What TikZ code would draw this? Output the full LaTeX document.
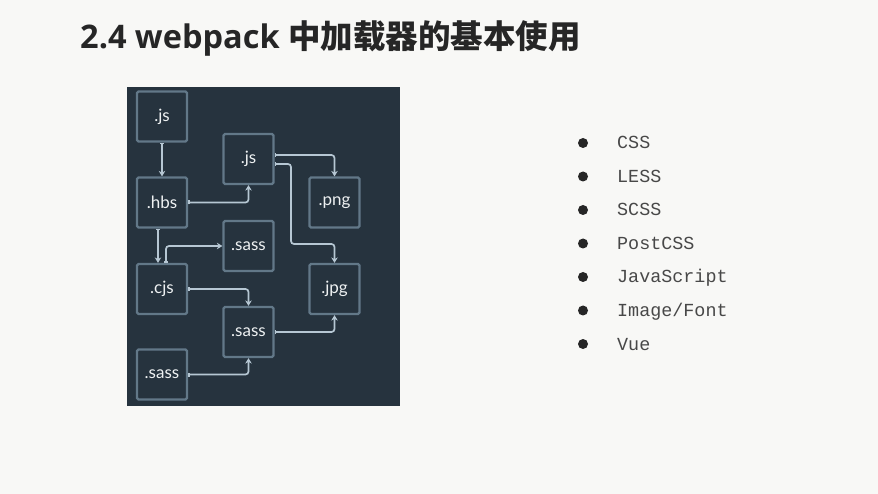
\documentclass[tikz,border=0pt]{standalone}
\usepackage{fontspec}
\usetikzlibrary{arrows.meta}
\newfontfamily\osans{Open Sans}
\newfontfamily\cjkbold{Noto Sans CJK SC Bold}
\newfontfamily\boxfont{Lato}
\newfontfamily\monofont{Liberation Mono}
\definecolor{pagebg}{HTML}{F8F8F6}
\definecolor{panel}{HTML}{26333E}
\definecolor{boxline}{HTML}{627888}
\definecolor{boxtext}{HTML}{EEF1F2}
\definecolor{connc}{HTML}{B6C7D3}
\definecolor{listtext}{HTML}{484848}
\begin{document}
\begin{tikzpicture}[x=1pt,y=-1pt,
  fbox/.style={draw=boxline, line width=2.2pt, fill=panel, rounded corners=1.5pt,
    minimum width=50pt, minimum height=50pt, inner sep=0pt,
    text=boxtext, font=\boxfont\fontsize{17}{17}\selectfont},
  conn/.style={draw=connc, line width=1.7pt, rounded corners=3pt,
    {Bar[width=4pt,line width=1.7pt]}-{Stealth[length=5.5pt,width=6.5pt]}},
  bullet/.style={circle, fill=black!85, inner sep=0pt, minimum size=10pt},
  item/.style={anchor=base west, inner sep=0pt, text=listtext,
    font=\monofont\fontsize{18.4}{18.4}\selectfont}
]
\useasboundingbox[fill=pagebg] (0,0) rectangle (878,494);
% title
\node[anchor=base west, inner sep=0pt, text=black!85] (title) at (80,49)
  {\fontsize{32.5}{32.5}\selectfont\osans\bfseries 2.4 webpack \cjkbold 中加载器的基本使用};
% panel
\fill[panel] (127,87) rectangle (400,406);
% boxes
\node[fbox] (js1)  at (162,116.5) {.js};
\node[fbox] (js2)  at (248.5,159) {.js};
\node[fbox] (hbs)  at (162,202.5) {.hbs};
\node[fbox] (png)  at (334.5,202.5) {.png};
\node[fbox] (sass1) at (248.5,246) {.sass};
\node[fbox] (cjs)  at (162,289) {.cjs};
\node[fbox] (jpg)  at (334.5,289) {.jpg};
\node[fbox] (sass2) at (248.5,332) {.sass};
\node[fbox] (sass3) at (162,374.5) {.sass};
\coordinate (j4) at (291,244);
% connectors
\draw[conn] (js1.south) -- (hbs.north);
\draw[conn] (hbs.east) -| (js2.south);
\draw[conn] ([yshift=4pt]js2.east) -| (png.north);
\draw[conn] ([yshift=-5pt]js2.east) -| (j4) -| (jpg.north);
\draw[conn] ([xshift=-4pt]hbs.south) -- ([xshift=-4pt]cjs.north);
\draw[conn] ([xshift=4pt]cjs.north) |- (sass1.west);
\draw[conn] (cjs.east) -| (sass2.north);
\draw[conn] (sass2.east) -| (jpg.south);
\draw[conn] (sass3.east) -| (sass2.south);
% list
\foreach \t [count=\i] in {CSS,LESS,SCSS,PostCSS,JavaScript,Image/Font,Vue}{
  \node[bullet] (b\i) at (583,{143+33.5*(\i-1)}) {};
  \node[item] (t\i) at (617,{149+33.5*(\i-1)}) {\t};
}
\end{tikzpicture}
\end{document}
